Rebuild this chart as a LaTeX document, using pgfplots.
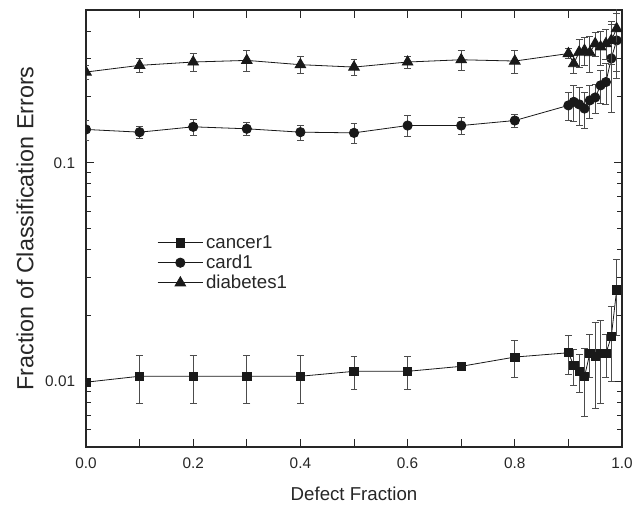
\documentclass[border=0pt]{standalone}
\usepackage{pgfplots}
\pgfplotsset{compat=1.18}
\usepackage{pgfplotstable}
\usepackage{fontspec}
\setmainfont{Liberation Sans}

% error fraction vs defect fraction: x, mean, std
\pgfplotstableread{
x     y        e
0.00  0.0099   0.0000
0.10  0.01054  0.0026
0.20  0.01054  0.0026
0.30  0.01054  0.0026
0.40  0.01054  0.0026
0.50  0.0111   0.0019
0.60  0.0111   0.0019
0.70  0.0117   0.0002
0.80  0.0129   0.0025
0.90  0.0135   0.0028
0.91  0.0118   0.0022
0.92  0.0111   0.0022
0.93  0.0105   0.0036
0.94  0.0134   0.0030
0.95  0.0130   0.0055
0.96  0.0134   0.0055
0.97  0.0134   0.0030
0.98  0.0160   0.0060
0.99  0.0262   0.0100
}\cancer

\pgfplotstableread{
x     y      e
0.00  0.142  0.015
0.10  0.138  0.009
0.20  0.146  0.012
0.30  0.143  0.010
0.40  0.138  0.011
0.50  0.137  0.014
0.60  0.148  0.016
0.70  0.148  0.013
0.80  0.156  0.011
0.90  0.183  0.026
0.91  0.190  0.035
0.92  0.185  0.036
0.93  0.177  0.033
0.94  0.193  0.034
0.95  0.199  0.030
0.96  0.226  0.040
0.97  0.234  0.050
0.98  0.300  0.130
0.99  0.363  0.120
}\card

\pgfplotstableread{
x     y      e
0.00  0.260  0.020
0.10  0.279  0.021
0.20  0.289  0.026
0.30  0.294  0.032
0.40  0.281  0.025
0.50  0.274  0.023
0.60  0.289  0.019
0.70  0.296  0.030
0.80  0.292  0.035
0.90  0.316  0.016
0.91  0.284  0.027
0.92  0.321  0.047
0.93  0.327  0.049
0.94  0.319  0.060
0.95  0.351  0.045
0.96  0.339  0.060
0.97  0.351  0.055
0.98  0.363  0.080
0.99  0.411  0.150
}\diabetes

\begin{document}
\begin{tikzpicture}
\begin{axis}[
  scale only axis,
  width=402pt, height=327.75pt,
  ymode=log,
  xmin=0, xmax=1,
  ymin=0.005, ymax=0.5,
  axis line style={line width=0.9pt, black!85},
  tick style={line width=0.7pt, black!85},
  tick align=inside,
  xtick pos=both, ytick pos=both,
  xticklabel pos=lower, yticklabel pos=left,
  xtick={0,0.1,0.2,0.3,0.4,0.5,0.6,0.7,0.8,0.9,1.0},
  xticklabels={0.0,,0.2,,0.4,,0.6,,0.8,,1.0},
  ytick={0.01,0.1},
  yticklabels={0.01,0.1},
  minor ytick={0.005,0.006,0.007,0.008,0.009,0.02,0.03,0.04,0.05,0.06,0.07,0.08,0.09,0.2,0.3,0.4,0.5},
  major tick length=6pt,
  minor tick length=3.5pt,
  ticklabel style={font=\fontsize{11.5}{13}\selectfont, text=black!85},
  xticklabel style={inner sep=0pt, yshift=-8pt},
  yticklabel style={inner sep=0pt, xshift=-8pt},
  xlabel={Defect Fraction},
  ylabel={Fraction of Classification Errors},
  every axis x label/.style={at={(axis description cs:0.5,0)}, yshift=-35.25pt,
    anchor=center, font=\fontsize{14}{16}\selectfont, text=black!85},
  every axis y label/.style={at={(axis description cs:0,0.5)}, xshift=-45.75pt,
    rotate=90, anchor=center, font=\fontsize{17.5}{20}\selectfont, text=black!85},
  clip marker paths=true,
  error bars/y dir=both,
  error bars/y explicit,
  error bars/error bar style={line width=0.55pt, black!70},
  error bars/error mark options={rotate=90, mark size=2.6pt, line width=0.55pt, black!70},
  legend style={draw=none, fill=none, at={(0.125,0.497)}, anchor=north west,
    font=\fontsize{14}{16}\selectfont, text=black!85, row sep=-0.5pt,
    /tikz/every even column/.append style={column sep=2pt}},
  legend cell align=left,
  legend image code/.code={%
    \draw[mark repeat=2, mark phase=2] plot coordinates {(0pt,0pt) (17pt,0pt) (34pt,0pt)};},
]
\addplot[black!90, line width=0.6pt, mark=square*, mark size=3.1pt,
  mark options={solid, fill=black!90, draw=black!90}]
  table[x=x, y=y, y error=e] {\cancer};
\addlegendentry{cancer1}
\addplot[black!90, line width=0.6pt, mark=*, mark size=3.5pt,
  mark options={solid, fill=black!90, draw=black!90}]
  table[x=x, y=y, y error=e] {\card};
\addlegendentry{card1}
\addplot[black!90, line width=0.6pt, mark=triangle*, mark size=4.6pt,
  mark options={solid, fill=black!90, draw=black!90}]
  table[x=x, y=y, y error=e] {\diabetes};
\addlegendentry{diabetes1}
\end{axis}
\pgfresetboundingbox
\path (-64.5pt,-44.25pt) rectangle (411pt,335.25pt);
\end{tikzpicture}
\end{document}
